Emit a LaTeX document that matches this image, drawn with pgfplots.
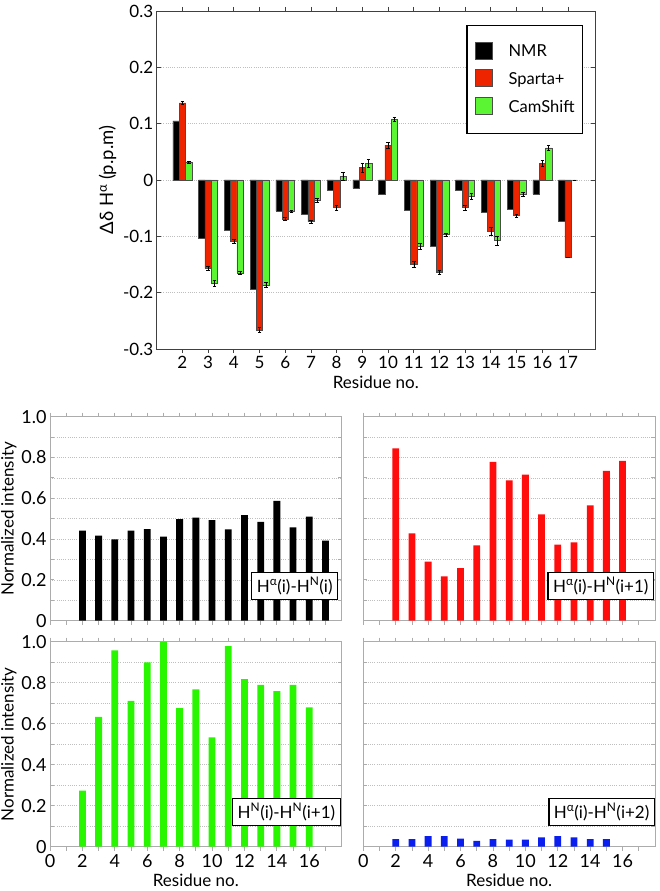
\documentclass[border=0pt]{standalone}
\usepackage{fontspec}
\setmainfont{Lato}
\usepackage{pgfplots}
\usepackage{pgfplotstable}
\pgfplotsset{compat=1.18}

\definecolor{spred}{RGB}{238,36,0}
\definecolor{csgreen}{RGB}{92,245,52}
\definecolor{barred}{RGB}{255,12,12}
\definecolor{bargreen}{RGB}{40,245,0}
\definecolor{barblue}{RGB}{10,30,240}

\pgfplotstableread{
res nmr sp spe cs cse
2 0.105 0.137 0.003 0.032 0.002
3 -0.104 -0.157 0.004 -0.183 0.005
4 -0.089 -0.109 0.003 -0.165 0.003
5 -0.194 -0.266 0.004 -0.186 0.004
6 -0.055 -0.069 0.002 -0.056 0.002
7 -0.060 -0.074 0.003 -0.036 0.003
8 -0.019 -0.049 0.005 0.006 0.007
9 -0.015 0.022 0.008 0.029 0.007
10 -0.026 0.062 0.005 0.108 0.004
11 -0.053 -0.150 0.005 -0.118 0.005
12 -0.117 -0.164 0.004 -0.097 0.002
13 -0.018 -0.049 0.004 -0.029 0.005
14 -0.057 -0.091 0.007 -0.107 0.008
15 -0.052 -0.063 0.003 -0.025 0.003
16 -0.025 0.030 0.005 0.057 0.005
17 -0.073 -0.138 0.000 0.000 0.000
}\topdata

\pgfplotstableread{
res v
2 0.441
3 0.417
4 0.399
5 0.441
6 0.449
7 0.412
8 0.498
9 0.505
10 0.493
11 0.448
12 0.518
13 0.485
14 0.587
15 0.458
16 0.510
17 0.392
}\hahni

\pgfplotstableread{
res v
2 0.845
3 0.428
4 0.289
5 0.217
6 0.258
7 0.369
8 0.779
9 0.688
10 0.716
11 0.521
12 0.373
13 0.384
14 0.565
15 0.735
16 0.784
}\hahnip

\pgfplotstableread{
res v
2 0.273
3 0.633
4 0.958
5 0.711
6 0.899
7 1.000
8 0.676
9 0.767
10 0.533
11 0.979
12 0.818
13 0.789
14 0.759
15 0.789
16 0.680
}\hnhn

\pgfplotstableread{
res v
2 0.037
3 0.037
4 0.052
5 0.052
6 0.039
7 0.028
8 0.037
9 0.034
10 0.034
11 0.046
12 0.052
13 0.046
14 0.037
15 0.037
}\hahnii

\pgfplotsset{
  panel/.style={
    anchor=south west, scale only axis, width=291.7pt,
    xmin=0, xmax=18, ymin=0, ymax=1,
    xtick={0,2,...,16}, minor xtick={1,3,...,17},
    ytick={0,0.2,0.4,0.6,0.8,1.0}, yticklabels={0,0.2,0.4,0.6,0.8,1.0},
    minor ytick={0.1,0.3,0.5,0.7,0.9},
    ymajorgrids, yminorgrids,
    major grid style={dash pattern=on 0.9pt off 1.3pt, gray!50, line width=0.5pt},
    minor grid style={dash pattern=on 0.9pt off 1.3pt, gray!50, line width=0.5pt},
    axis line style={gray!65, line width=0.9pt},
    tick style={gray!65, line width=0.8pt},
    major tick length=4pt, minor tick length=4pt,
    /pgf/number format/assume math mode=true,
    tick label style={font=\fontsize{18}{21}\selectfont},
    label style={font=\fontsize{17}{20}\selectfont},
    ylabel style={font=\fontsize{17}{20}\selectfont,
      at={(axis description cs:-0.141,0.5)}, anchor=center},
    ybar, bar width=0.42, bar shift=0pt,
  },
}
\tikzset{
  tag/.style={draw=black, line width=1.3pt, fill=white, anchor=south east,
    font=\fontsize{17}{20}\selectfont, inner xsep=5pt, inner ysep=5pt},
}

\begin{document}
\begin{tikzpicture}
\useasboundingbox (0,0) rectangle (659pt,891pt);

% ---- top chart ----
\begin{axis}[
  at={(156.7pt,542pt)}, anchor=south west, scale only axis,
  width=438.3pt, height=338pt,
  xmin=1, xmax=18.05, ymin=-0.3, ymax=0.3,
  xtick={2,...,17},
  ytick={-0.3,-0.2,-0.1,0,0.1,0.2,0.3},
  yticklabels={-0.3,-0.2,-0.1,0,0.1,0.2,0.3},
  ymajorgrids,
  major grid style={dash pattern=on 0.9pt off 1.3pt, gray!50, line width=0.5pt},
  axis line style={black!75, line width=0.9pt},
  tick style={black!75, line width=0.8pt},
  major tick length=4pt,
  /pgf/number format/assume math mode=true,
  tick label style={font=\fontsize{17}{20}\selectfont},
  label style={font=\fontsize{17}{20}\selectfont},
  ylabel style={font=\fontsize{18.5}{21}\selectfont},
  xlabel={Residue no.},
  ylabel={Δδ H\textsuperscript{α} (p.p.m)},
  ybar=0pt, bar width=0.245,
  legend cell align=left,
  legend style={at={(0.973,0.959)}, anchor=north east, draw=black,
    line width=1.3pt, font=\fontsize{16.5}{19}\selectfont,
    inner xsep=8pt, inner ysep=16pt, row sep=7pt,
    nodes={inner sep=0pt, text height=11.5pt, text depth=5.5pt},
    /tikz/every odd column/.append style={column sep=16pt}},
  legend image code/.code={\fill[#1] (0pt,-5pt) rectangle (17pt,12pt);},
]
\addplot[fill=black, draw=gray!60!black, line width=0.5pt]
  table[x=res, y=nmr]{\topdata};
\addplot[fill=spred, draw=gray!60!black, line width=0.5pt,
  error bars/.cd, y dir=both, y explicit,
  error bar style={black, line width=0.5pt},
  error mark options={black, rotate=90, mark size=1.8pt, line width=0.5pt}]
  table[x=res, y=sp, y error=spe]{\topdata};
\addplot[fill=csgreen, draw=gray!60!black, line width=0.5pt,
  error bars/.cd, y dir=both, y explicit,
  error bar style={black, line width=0.5pt},
  error mark options={black, rotate=90, mark size=1.8pt, line width=0.5pt}]
  table[x=res, y=cs, y error=cse]{\topdata};
\legend{NMR, Sparta+, CamShift}
\end{axis}

% ---- upper left ----
\begin{axis}[panel, at={(50pt,270.3pt)}, height=204pt,
  xticklabels={}, ylabel={Normalized intensity}]
\addplot[fill=black, draw=none] table[x=res, y=v]{\hahni};
\node[tag] at (rel axis cs:0.988,0.10) {H\textsuperscript{α}(i)-H\textsuperscript{N}(i)};
\end{axis}

% ---- upper right ----
\begin{axis}[panel, at={(363.3pt,270.3pt)}, height=204pt,
  xticklabels={}, yticklabels={}]
\addplot[fill=barred, draw=none] table[x=res, y=v]{\hahnip};
\node[tag] at (rel axis cs:0.997,0.10) {H\textsuperscript{α}(i)-H\textsuperscript{N}(i+1)};
\end{axis}

% ---- lower left ----
\begin{axis}[panel, at={(50pt,44.3pt)}, height=205pt,
  xlabel={Residue no.}, ylabel={Normalized intensity}]
\addplot[fill=bargreen, draw=none] table[x=res, y=v]{\hnhn};
\node[tag] at (rel axis cs:0.997,0.10) {H\textsuperscript{N}(i)-H\textsuperscript{N}(i+1)};
\end{axis}

% ---- lower right ----
\begin{axis}[panel, at={(363.3pt,44.3pt)}, height=205pt,
  xlabel={Residue no.}, yticklabels={}]
\addplot[fill=barblue, draw=none] table[x=res, y=v]{\hahnii};
\node[tag] at (rel axis cs:1.0,0.10) {H\textsuperscript{α}(i)-H\textsuperscript{N}(i+2)};
\end{axis}
\end{tikzpicture}
\end{document}
